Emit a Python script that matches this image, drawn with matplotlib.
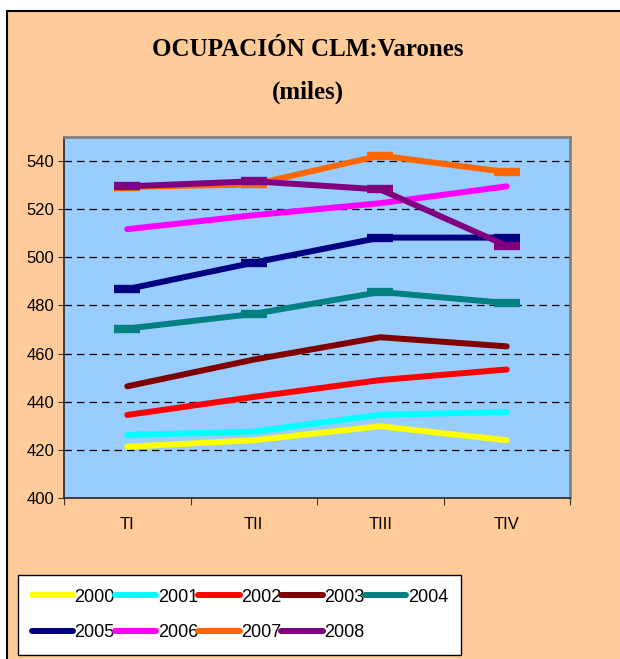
import matplotlib
matplotlib.use('Agg')
import matplotlib.pyplot as plt
from matplotlib.patches import Rectangle
from matplotlib.lines import Line2D

plt.rcParams['font.family'] = ['Liberation Sans Narrow', 'Liberation Sans', 'DejaVu Sans']

# --- data (miles) ---
quarters = ['TI', 'TII', 'TIII', 'TIV']
years = ['2000', '2001', '2002', '2003', '2004', '2005', '2006', '2007', '2008']
v2000 = [421.3, 424.0, 429.8, 424.0]
v2001 = [426.2, 427.6, 434.6, 435.7]
v2002 = [434.5, 442.0, 449.0, 453.4]
v2003 = [446.4, 457.5, 466.8, 463.0]
v2004 = [470.4, 476.5, 485.6, 481.0]
v2005 = [486.8, 497.8, 508.2, 508.2]
v2006 = [511.7, 517.5, 522.5, 529.5]
v2007 = [529.3, 530.3, 542.3, 535.4]
v2008 = [529.5, 531.6, 528.2, 504.8]
series = [v2000, v2001, v2002, v2003, v2004, v2005, v2006, v2007, v2008]
colors = ['#FFFF00', '#00FFFF', '#FF0000', '#800000', '#008080',
          '#000080', '#FF00FF', '#FF6600', '#800080']
with_marker = ['2004', '2005', '2007', '2008']

fig = plt.figure(figsize=(6.2, 6.59), dpi=100)
fig.patch.set_facecolor('white')

# peach chart area with black border on top/left
fig.patches.append(Rectangle((7 / 620, -0.02), 1.0, 1 - 11 / 659 + 0.02,
                             transform=fig.transFigure, facecolor='#FFCC99',
                             edgecolor='black', linewidth=1.5, zorder=-1))

ax = fig.add_axes([64 / 620, 1 - 498 / 659, 506 / 620, 361 / 659])
ax.set_facecolor('#99CCFF')

x = range(len(quarters))
for name, vals, c in zip(years, series, colors):
    if name in with_marker:
        ax.plot(x, vals, color=c, lw=4.3, solid_capstyle='butt',
                marker='_', markersize=19, markeredgewidth=6, zorder=3)
    else:
        ax.plot(x, vals, color=c, lw=4.3, solid_capstyle='round', zorder=3)

ax.set_ylim(400, 550)
ax.set_yticks(range(400, 541, 20))
ax.set_xlim(-0.5, 3.5)
ax.set_xticks([-0.5, 0.5, 1.5, 2.5, 3.5])
ax.set_xticklabels([])
ax.set_xticks(list(x), minor=True)
ax.set_xticklabels(quarters, minor=True)
ax.tick_params(axis='x', which='minor', length=0, pad=14, labelsize=12)
ax.tick_params(axis='x', which='major', length=5, direction='out', color='#333333')
ax.tick_params(axis='y', length=4, direction='out', labelsize=12, pad=3, color='#333333')

ax.yaxis.grid(True, color='black', linestyle=(0, (6, 4)), linewidth=0.9)
ax.set_axisbelow(True)
for s in ['left', 'bottom']:
    ax.spines[s].set_color('#333333')
    ax.spines[s].set_linewidth(1.3)
for s in ['top', 'right']:
    ax.spines[s].set_color('#808080')
    ax.spines[s].set_linewidth(2)

fig.text(0.497, 1 - 50 / 659, 'OCUPACIÓN CLM:Varones', ha='center', va='center',
         fontsize=18, fontweight='bold', family='Liberation Serif')
fig.text(0.497, 1 - 92 / 659, '(miles)', ha='center', va='center',
         fontsize=18, fontweight='bold', family='Liberation Serif')

# legend filled row by row (matplotlib fills columns, so reorder)
order = [0, 5, 1, 6, 2, 7, 3, 8, 4]
handles = [Line2D([], [], color=colors[i], lw=4.3, solid_capstyle='round') for i in order]
labels = [years[i] for i in order]
leg = fig.legend(handles, labels, loc='lower left', ncol=5,
                 bbox_to_anchor=(18 / 620, 4 / 659),
                 fontsize=13, handlelength=2.3, handletextpad=0.08,
                 columnspacing=0.0, labelspacing=1.05, borderaxespad=0,
                 borderpad=0.75, fancybox=False, framealpha=1, edgecolor='black')
leg.get_frame().set_linewidth(1)

fig.savefig('out.png', dpi=100, facecolor=fig.get_facecolor())
